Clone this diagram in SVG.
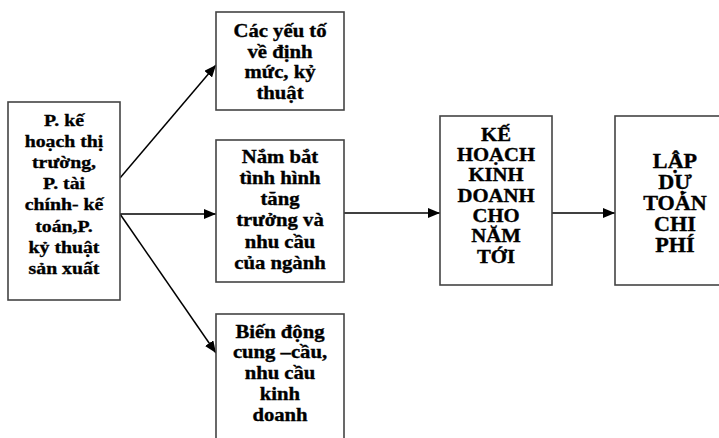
<svg xmlns="http://www.w3.org/2000/svg" width="719" height="438" viewBox="0 0 719 438">
<style>
.box{fill:#fff;stroke:#444;stroke-width:1.6}
.t{font-family:"Liberation Serif","Times New Roman",serif;font-weight:bold;font-size:18px;fill:#000;stroke:#000;stroke-width:0.35;text-anchor:middle}
.s{font-size:17.5px}
.big{font-size:20.5px}
.c{stroke:#000;stroke-width:1.5;fill:none;marker-end:url(#ah)}
</style>
<defs>
<marker id="ah" markerUnits="userSpaceOnUse" markerWidth="12" markerHeight="10" refX="12" refY="5" orient="auto">
<path d="M0,0 L12,5 L0,10 z" fill="#000"/>
</marker>
</defs>
<rect width="719" height="438" fill="#fff"/>
<g id="connectors">
<line class="c" x1="120" y1="178" x2="216" y2="65"/>
<line class="c" x1="120" y1="214" x2="216" y2="214"/>
<line class="c" x1="120" y1="214" x2="216" y2="353"/>
<line class="c" x1="344" y1="213" x2="440" y2="213"/>
<line class="c" x1="552" y1="213" x2="615" y2="213"/>
</g>
<g id="node-phong">
<rect class="box" x="8" y="102" width="112" height="198"/>
<g transform="translate(64,0) scale(1.13,1)">
<text class="t s" x="0" y="126">P. kế</text>
<text class="t s" x="0" y="147.5">hoạch thị</text>
<text class="t s" x="0" y="168.5">trường,</text>
<text class="t s" x="0" y="189.5">P. tài</text>
<text class="t s" x="0" y="210.5">chính- kế</text>
<text class="t s" x="0" y="232">toán,P.</text>
<text class="t s" x="0" y="253">kỷ thuật</text>
<text class="t s" x="0" y="274.5">sản xuất</text>
</g>
</g>
<g id="node-yeuto">
<rect class="box" x="216" y="12" width="128" height="98"/>
<g transform="translate(280,0) scale(1.15,1)">
<text class="t" x="0" y="37">Các yếu tố</text>
<text class="t" x="0" y="58">về định</text>
<text class="t" x="0" y="78.5">mức, kỷ</text>
<text class="t" x="0" y="99">thuật</text>
</g>
</g>
<g id="node-nambat">
<rect class="box" x="216" y="140" width="128" height="142"/>
<g transform="translate(280,0) scale(1.15,1)">
<text class="t" x="0" y="163">Nắm bắt</text>
<text class="t" x="0" y="184">tình hình</text>
<text class="t" x="0" y="205">tăng</text>
<text class="t" x="0" y="226.5">trưởng và</text>
<text class="t" x="0" y="248">nhu cầu</text>
<text class="t" x="0" y="269">của ngành</text>
</g>
</g>
<g id="node-biendong">
<rect class="box" x="216" y="314" width="128" height="140"/>
<g transform="translate(280,0) scale(1.15,1)">
<text class="t" x="0" y="338">Biến động</text>
<text class="t" x="0" y="358.5">cung –cầu,</text>
<text class="t" x="0" y="379.5">nhu cầu</text>
<text class="t" x="0" y="400">kinh</text>
<text class="t" x="0" y="421">doanh</text>
</g>
</g>
<g id="node-kehoach">
<rect class="box" x="440" y="116" width="112" height="169"/>
<g transform="translate(496,0) scale(1.15,1)">
<text class="t" x="0" y="141.5">KẾ</text>
<text class="t" x="0" y="161.5">HOẠCH</text>
<text class="t" x="0" y="181.5">KINH</text>
<text class="t" x="0" y="202">DOANH</text>
<text class="t" x="0" y="222.5">CHO</text>
<text class="t" x="0" y="242.5">NĂM</text>
<text class="t" x="0" y="263">TỚI</text>
</g>
</g>
<g id="node-lapdutoan">
<rect class="box" x="615" y="116" width="120" height="169"/>
<g transform="translate(675,0) scale(1.08,1)">
<text class="t big" x="0" y="168">LẬP</text>
<text class="t big" x="0" y="189">DỰ</text>
<text class="t big" x="0" y="210">TOÁN</text>
<text class="t big" x="0" y="231.5">CHI</text>
<text class="t big" x="0" y="252.5">PHÍ</text>
</g>
</g>
</svg>
